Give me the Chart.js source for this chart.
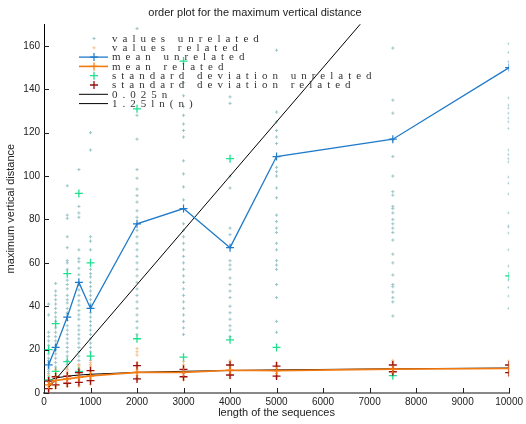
<!DOCTYPE html>
<html>
<head>
<meta charset="utf-8">
<script src="https://cdn.jsdelivr.net/npm/chart.js@4.4.0/dist/chart.umd.min.js"></script>
<style>
  html, body { margin: 0; padding: 0; background: #fff; }
</style>
</head>
<body>
<canvas id="orderChart" width="526" height="424"></canvas>
<script>
// sequence lengths (x positions of every column)
const sizes = [100, 250, 500, 750, 1000, 2000, 3000, 4000, 5000, 7500, 10000];

// raw values, one list per sequence length
const valuesUnrelated = [
  [41, 36, 28, 26, 24, 22, 20, 18, 16, 15, 14, 12, 11, 10, 9, 8, 7, 6, 5, 4],
  [50.5, 47, 45, 43, 41, 39, 37, 35, 33, 30, 28, 26, 24, 22, 20, 18, 16, 14, 12, 10, 8],
  [95.5, 82, 80.5, 72, 67, 61, 60, 57, 52, 50, 48, 45, 43, 41.5, 39, 37, 33.5, 31, 29, 27, 25, 23, 21, 19, 17, 15, 13, 11],
  [103, 86, 83, 81, 66, 62, 60.5, 57.5, 54.5, 47.5, 45, 42.5, 40.5, 38, 36, 34, 31, 29, 27, 25, 23, 21, 19, 17, 15, 13, 11],
  [120, 112, 72, 70, 66, 57, 55, 53.5, 51, 49, 47, 45, 43, 41, 37, 35, 33, 31, 29, 27, 25, 23, 21, 19, 17, 15, 13],
  [168, 128, 117, 103, 99, 94, 91, 88, 84, 81, 78, 75, 72, 69, 66, 63, 60, 57, 54, 51, 48, 45, 42, 39, 36, 33, 30, 27],
  [143, 137, 132, 128, 124, 121, 118, 107, 101, 95, 89, 78, 75, 72, 69, 66, 63, 60, 57, 54, 51, 48, 45, 42, 39, 36, 33, 30, 27],
  [136.5, 133.5, 100, 94.5, 76, 73, 67, 61, 59, 57, 53, 50, 47, 44, 40, 37, 34, 31, 29, 26],
  [158, 129.5, 125, 121, 118, 115, 104, 102, 100, 94.5, 90, 82, 79, 76, 74, 69, 66, 61, 59, 57, 50, 44, 33, 28],
  [159, 135, 129, 116.5, 109, 100, 92.8, 91.2, 86, 85, 83, 80, 78, 76, 74, 70.5, 64, 60, 54.4, 50, 49, 46.5, 44, 42, 35.5],
  [161, 157, 152.7, 136, 132.7, 131.3, 129, 126.7, 125, 122, 112, 110, 108, 106.5, 99.5, 96.7, 91.7, 83, 77, 76.5, 73.7, 66, 58.5, 52, 48.7, 44.7, 39]
];
const valuesRelated = [
  [1, 2, 3, 4, 5, 6, 7, 8],
  [2, 3, 4, 5, 6, 7, 8, 9, 10, 11],
  [3, 4, 5, 6, 7, 8, 9, 10, 11, 12],
  [3, 4, 5, 6, 7, 8, 9, 10, 11, 12, 13],
  [4, 5, 6, 7, 8, 9, 10, 11, 12, 13, 14],
  [6, 7, 8, 9, 10, 11, 12, 13, 14, 17.5, 19, 20.5],
  [6, 7, 8, 9, 10, 11, 12, 13, 14.5],
  [7, 8, 9, 10, 11, 12, 13, 14, 15],
  [7, 8, 9, 10, 11, 12, 13, 14],
  [8, 9, 10, 11, 12, 13, 14, 15],
  [8, 9, 10, 11, 12, 13, 14, 15]
];

// summary series
const meanUnrelated = [13, 21, 35, 51, 39, 78, 85, 67, 109, 117, 150];
const meanRelated = [3.7, 5.8, 6.5, 7.2, 7.9, 9.5, 9.5, 10.5, 10.3, 11, 11.3];
const stdUnrelatedHigh = [20, 32, 55, 92, 60, 131, 153, 108, null, null, null];
const stdUnrelatedLow = [6, 10, 14.5, 10, 17, 25, 16.5, 24.5, 21, 8, 54];
const stdRelatedHigh = [5.5, 7.5, 7.8, 9.4, 10.3, 12.6, 10.9, 12.9, 12.4, 12.9, 12.9];
const stdRelatedLow = [2, 3.7, 4.5, 4.9, 5.7, 6.5, 7.5, 8.3, 7.8, 9.8, 9.4];
const linearRef = [2.5, 6.25, 12.5, 18.75, 25, 50, 75, 100, 125, 187.5, 250];
const logRef = [5.76, 6.9, 7.77, 8.28, 8.63, 9.5, 10.0, 10.37, 10.65, 11.16, 11.51];

// tick labels
const xTicks = [0, 1000, 2000, 3000, 4000, 5000, 6000, 7000, 8000, 9000, 10000];
const yTicks = [0, 20, 40, 60, 80, 100, 120, 140, 160];

const legendLabels = [
  'values unrelated', 'values related', 'mean unrelated', 'mean related',
  'standard deviation unrelated', 'standard deviation related', '0.025n', '1.25ln(n)'
];

// helpers to turn the lists into {x, y} points
function spread(lists) {
  const pts = [];
  lists.forEach((list, i) => list.forEach(v => pts.push({ x: sizes[i], y: v })));
  return pts;
}
function pair(values) {
  return values.map((v, i) => ({ x: sizes[i], y: v })).filter(p => p.y !== null);
}

function crossSet(label, data, color, radius, width, order) {
  return {
    label: label, data: data, showLine: false,
    pointStyle: 'cross', pointRadius: radius, pointHoverRadius: radius,
    pointBorderColor: color, pointBorderWidth: width, borderColor: color,
    order: order
  };
}
function lineSet(label, data, color, width, markerRadius, order) {
  return {
    label: label, data: data, showLine: true, fill: false, tension: 0,
    borderColor: color, borderWidth: width,
    pointStyle: 'cross', pointRadius: markerRadius, pointHoverRadius: markerRadius,
    pointBorderColor: color, pointBorderWidth: 1.2,
    order: order
  };
}

// legend drawn inside the plot, top left (no box)
const insideLegend = {
  id: 'insideLegend',
  afterDraw(chart) {
    const ctx = chart.ctx;
    ctx.save();
    ctx.font = '11px "Liberation Serif"';
    ctx.letterSpacing = '5px';
    ctx.textBaseline = 'middle';
    chart.data.datasets.forEach((ds, i) => {
      const y = 38.5 + i * 9.3;
      if (ds.showLine) {
        ctx.strokeStyle = ds.borderColor;
        ctx.lineWidth = ds.borderWidth;
        ctx.beginPath();
        ctx.moveTo(79, y);
        ctx.lineTo(108, y);
        ctx.stroke();
      }
      if (ds.pointRadius > 0) {
        const r = ds.pointRadius;
        ctx.strokeStyle = ds.pointBorderColor;
        ctx.lineWidth = ds.pointBorderWidth;
        ctx.beginPath();
        ctx.moveTo(94 - r, y); ctx.lineTo(94 + r, y);
        ctx.moveTo(94, y - r); ctx.lineTo(94, y + r);
        ctx.stroke();
      }
      ctx.fillStyle = '#333';
      ctx.fillText(ds.label, 112, y + 0.5);
    });
    ctx.restore();
  }
};

// MATLAB style ticks pointing into the plot
const innerTicks = {
  id: 'innerTicks',
  afterDraw(chart) {
    const { ctx, chartArea, scales } = chart;
    ctx.save();
    ctx.strokeStyle = '#222';
    ctx.lineWidth = 1;
    ctx.beginPath();
    scales.x.ticks.forEach(t => {
      const px = Math.round(scales.x.getPixelForValue(t.value)) + 0.5;
      ctx.moveTo(px, chartArea.bottom);
      ctx.lineTo(px, chartArea.bottom - 5);
    });
    scales.y.ticks.forEach(t => {
      const py = Math.round(scales.y.getPixelForValue(t.value)) + 0.5;
      ctx.moveTo(chartArea.left, py);
      ctx.lineTo(chartArea.left + 5, py);
    });
    ctx.stroke();
    ctx.restore();
  }
};

const ctx = document.getElementById('orderChart').getContext('2d');
new Chart(ctx, {
  type: 'scatter',
  data: {
    datasets: [
      crossSet(legendLabels[0], spread(valuesUnrelated), '#9cc6c8', 1.6, 1, 10),
      crossSet(legendLabels[1], spread(valuesRelated), '#f8c08a', 1.6, 1, 9),
      lineSet(legendLabels[2], pair(meanUnrelated), '#1f7ac9', 1.3, 4, 2),
      lineSet(legendLabels[3], pair(meanRelated), '#f27a12', 1.6, 4, 1),
      crossSet(legendLabels[4], pair(stdUnrelatedHigh).concat(pair(stdUnrelatedLow)), '#1ee08f', 4, 1.3, 4),
      crossSet(legendLabels[5], pair(stdRelatedHigh).concat(pair(stdRelatedLow)), '#9a0f0f', 4, 1.3, 3),
      lineSet(legendLabels[6], pair(linearRef), '#000000', 1, 0, 6),
      lineSet(legendLabels[7], pair(logRef), '#000000', 1, 0, 5)
    ]
  },
  options: {
    responsive: false,
    animation: false,
    layout: { padding: { top: 0, right: 16, bottom: 0, left: 0 } },
    plugins: {
      legend: { display: false },
      tooltip: { enabled: false },
      title: {
        display: true,
        text: 'order plot for the maximum vertical distance',
        color: '#222',
        font: { family: 'Liberation Sans', size: 11, weight: 'normal' },
        padding: { top: 6, bottom: 5 }
      }
    },
    scales: {
      x: {
        type: 'linear', min: 0, max: 10000,
        afterBuildTicks: s => { s.ticks = xTicks.map(v => ({ value: v })); },
        afterFit: s => { s.height = 31; },
        grid: { display: false, drawTicks: false },
        border: { color: '#888', width: 2 },
        ticks: {
          color: '#222', padding: 3, font: { family: 'Liberation Sans', size: 10 },
          callback: v => String(v)
        },
        title: {
          display: true, text: 'length of the sequences', color: '#222',
          font: { family: 'Liberation Sans', size: 11 }, padding: { top: 0, bottom: 4 }
        }
      },
      y: {
        type: 'linear', min: 0, max: 170,
        afterBuildTicks: s => { s.ticks = yTicks.map(v => ({ value: v })); },
        afterFit: s => { s.width = 44; },
        grid: { display: false, drawTicks: false },
        border: { color: '#000', width: 1 },
        ticks: {
          color: '#222', padding: 4, font: { family: 'Liberation Sans', size: 10 },
          callback: v => String(v)
        },
        title: {
          display: true, text: 'maximum vertical distance', color: '#222',
          font: { family: 'Liberation Sans', size: 11 }, padding: { top: 4, bottom: 0 }
        }
      }
    }
  },
  plugins: [insideLegend, innerTicks]
});
</script>
</body>
</html>
